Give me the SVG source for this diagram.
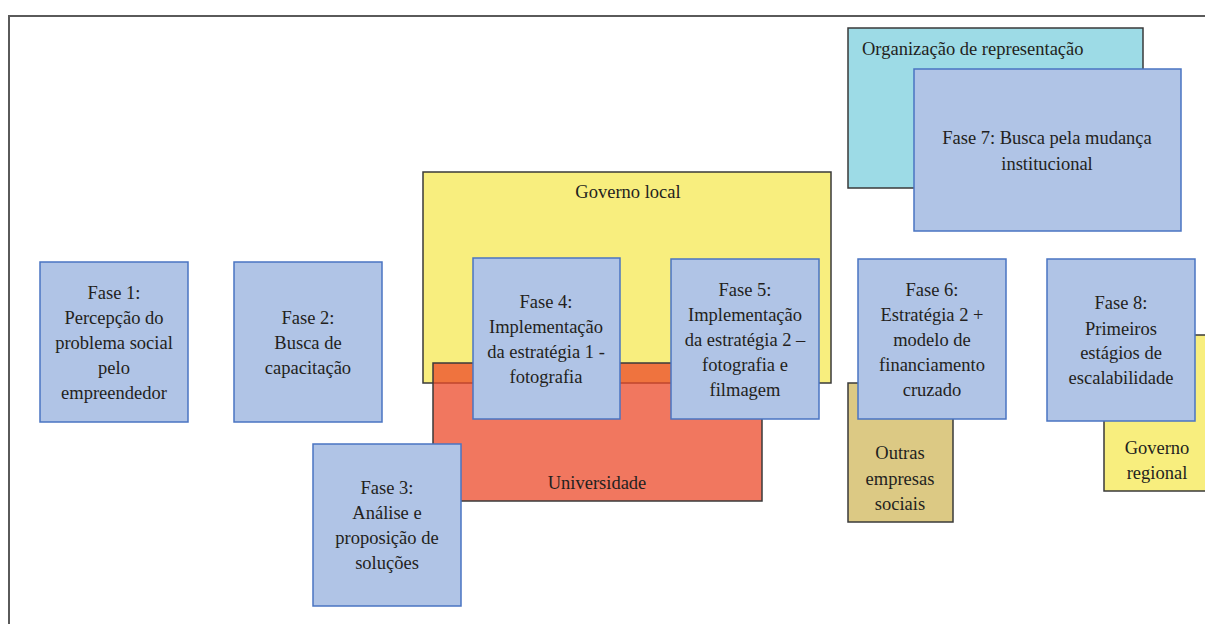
<svg xmlns="http://www.w3.org/2000/svg" width="1205" height="624" viewBox="0 0 1205 624">
  <style>
    text { font-family: "Liberation Serif", "Times New Roman", serif; font-size: 18.5px; fill: #231F20; text-anchor: middle; }
    .phase { fill: #B0C4E6; stroke: #4A74C2; stroke-width: 1.5; }
    .actor { stroke: #3A3A3A; stroke-width: 1.5; }
    .frame { fill: none; stroke: #5A5A5A; stroke-width: 2; }
  </style>

  <!-- outer frame (top and left edges) -->
  <path class="frame" d="M9 624 V16 H1205"/>

  <!-- representation organisation with phase 7 -->
  <g id="org-representacao">
    <rect class="actor" x="848" y="28" width="295" height="160" fill="#9DDBE6"/>
    <text x="862" y="55" style="text-anchor:start">Organização de representação</text>
  </g>
  <g id="fase7">
    <rect class="phase" x="914" y="69" width="267" height="162"/>
    <text x="1047" y="144">Fase 7: Busca pela mudança</text>
    <text x="1047" y="170">institucional</text>
  </g>

  <!-- local government and university -->
  <g id="governo-local">
    <rect class="actor" x="423" y="172" width="408" height="211" fill="#F8EE7E"/>
    <text x="628" y="198">Governo local</text>
  </g>
  <g id="universidade">
    <rect class="actor" x="433" y="363" width="329" height="138" fill="#EC4A2A" fill-opacity="0.75"/>
    <text x="597" y="489">Universidade</text>
  </g>

  <g id="fase1">
    <rect class="phase" x="40" y="262" width="148" height="160"/>
    <text x="114" y="299">Fase 1:</text>
    <text x="114" y="324">Percepção do</text>
    <text x="114" y="349">problema social</text>
    <text x="114" y="374">pelo</text>
    <text x="114" y="399">empreendedor</text>
  </g>

  <g id="fase2">
    <rect class="phase" x="234" y="262" width="148" height="160"/>
    <text x="308" y="324">Fase 2:</text>
    <text x="308" y="349">Busca de</text>
    <text x="308" y="374">capacitação</text>
  </g>

  <g id="fase3">
    <rect class="phase" x="313" y="444" width="148" height="162"/>
    <text x="387" y="494">Fase 3:</text>
    <text x="387" y="519">Análise e</text>
    <text x="387" y="544">proposição de</text>
    <text x="387" y="569">soluções</text>
  </g>

  <g id="fase4">
    <rect class="phase" x="473" y="258" width="147" height="161"/>
    <text x="546" y="308">Fase 4:</text>
    <text x="546" y="333">Implementação</text>
    <text x="546" y="358">da estratégia 1 -</text>
    <text x="546" y="383">fotografia</text>
  </g>

  <g id="fase5">
    <rect class="phase" x="671" y="259" width="148" height="160"/>
    <text x="745" y="296">Fase 5:</text>
    <text x="745" y="321">Implementação</text>
    <text x="745" y="346">da estratégia 2 –</text>
    <text x="745" y="371">fotografia e</text>
    <text x="745" y="396">filmagem</text>
  </g>

  <!-- other social enterprises with phase 6 -->
  <g id="outras-empresas">
    <rect class="actor" x="848" y="383" width="105" height="139" fill="#DCC984"/>
    <text x="900" y="459">Outras</text>
    <text x="900" y="485">empresas</text>
    <text x="900" y="510">sociais</text>
  </g>
  <g id="fase6">
    <rect class="phase" x="858" y="259" width="148" height="160"/>
    <text x="932" y="296">Fase 6:</text>
    <text x="932" y="321">Estratégia 2 +</text>
    <text x="932" y="346">modelo de</text>
    <text x="932" y="371">financiamento</text>
    <text x="932" y="396">cruzado</text>
  </g>

  <!-- regional government with phase 8 -->
  <g id="governo-regional">
    <rect class="actor" x="1104" y="335" width="110" height="156" fill="#F8EE7E"/>
    <text x="1157" y="454">Governo</text>
    <text x="1157" y="479">regional</text>
  </g>
  <g id="fase8">
    <rect class="phase" x="1047" y="259" width="148" height="162"/>
    <text x="1121" y="309">Fase 8:</text>
    <text x="1121" y="335">Primeiros</text>
    <text x="1121" y="359">estágios de</text>
    <text x="1121" y="384">escalabilidade</text>
  </g>

  <g id="connectors"/>
</svg>
